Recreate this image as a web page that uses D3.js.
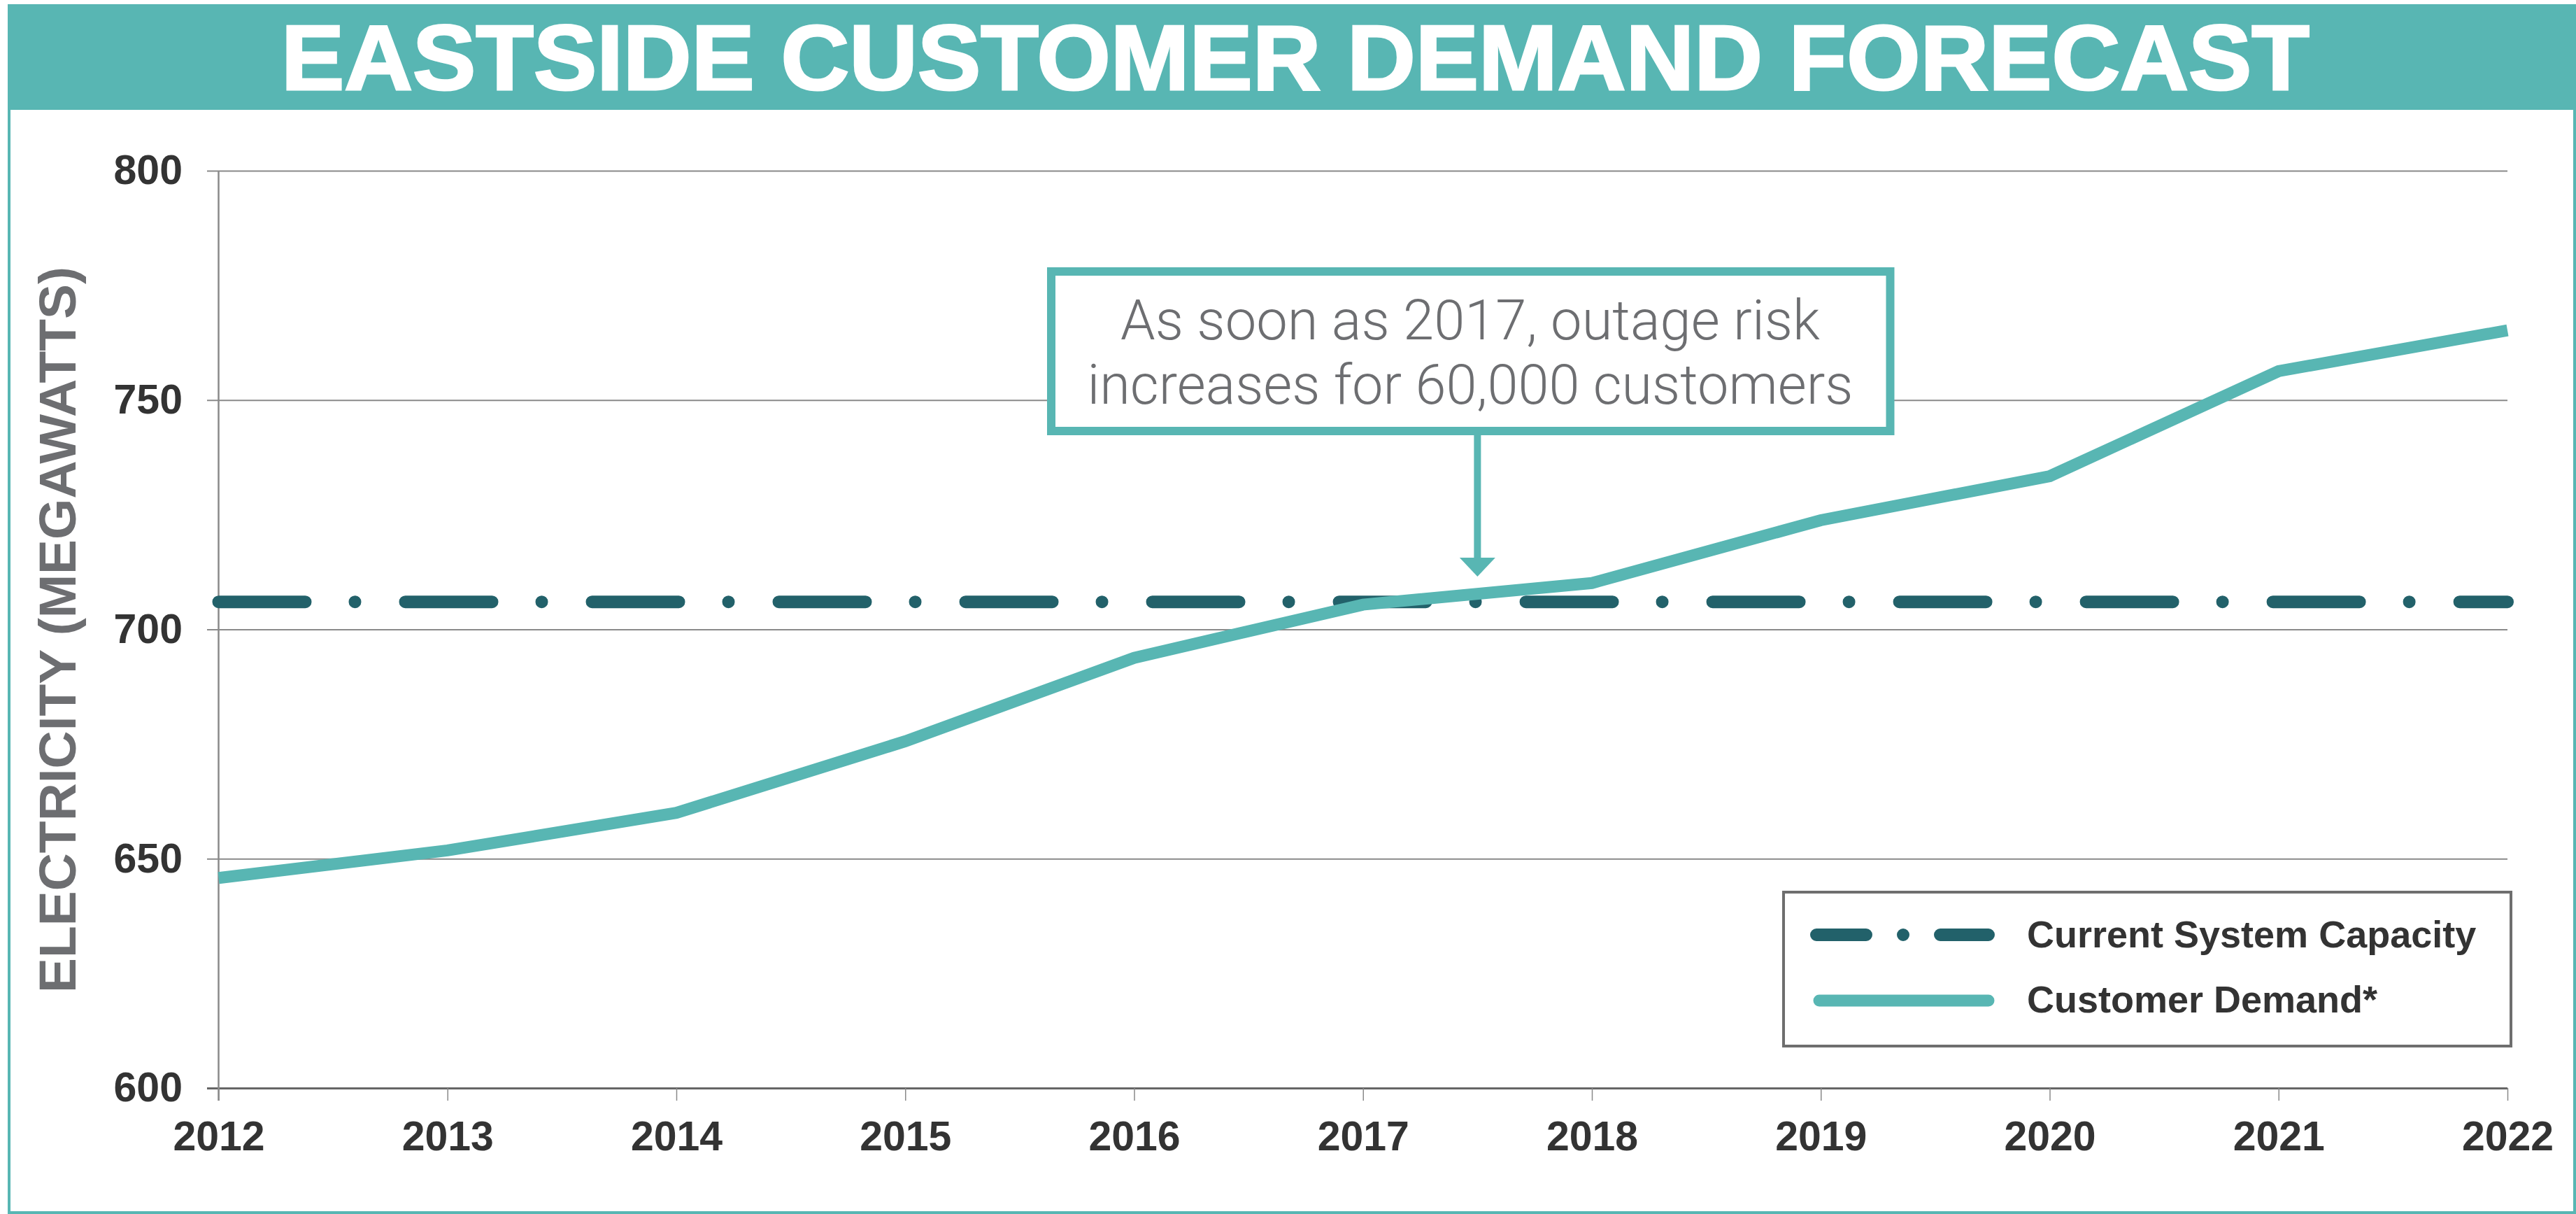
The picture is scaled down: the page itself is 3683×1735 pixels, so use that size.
<!DOCTYPE html>
<html>
<head>
<meta charset="utf-8">
<script src="https://cdn.jsdelivr.net/npm/d3@7"></script>
<style>
  html, body { margin: 0; padding: 0; background: #ffffff; }
  svg { display: block; }
</style>
</head>
<body>
<svg id="chart" width="3683" height="1735"></svg>
<script>
// ---- data ----
const years = [2012, 2013, 2014, 2015, 2016, 2017, 2018, 2019, 2020, 2021, 2022];
const demand = [645.8, 651.8, 660.0, 675.6, 693.8, 705.4, 710.1, 723.8, 733.4, 756.3, 765.2];
const capacityValue = 706;
const yTickValues = [600, 650, 700, 750, 800];
const xTickValues = years;
const titleText = "EASTSIDE CUSTOMER DEMAND FORECAST";
const yAxisTitle = "ELECTRICITY (MEGAWATTS)";
const annotationLines = ["As soon as 2017, outage risk", "increases for 60,000 customers"];
const annotationYear = 2017.5;
const legendLabels = ["Current System Capacity", "Customer Demand*"];

// ---- styles ----
const TEAL = "#58b6b3";
const DARK = "#22616a";
const TEXT = "#333333";
const GRAYTXT = "#6d6e71";

const svg = d3.select("#chart");
const W = 3683, H = 1735;

// frame
svg.append("rect").attr("x", 13).attr("y", 8).attr("width", W - 15).attr("height", H - 10)
  .attr("fill", "#fff").attr("stroke", TEAL).attr("stroke-width", 4);
svg.append("rect").attr("x", 11).attr("y", 6).attr("width", W - 11).attr("height", 151).attr("fill", TEAL);
svg.append("text").attr("x", 1852).attr("y", 128)
  .attr("text-anchor", "middle")
  .attr("font-family", "Liberation Sans, Arial, sans-serif")
  .attr("font-weight", 700).attr("font-size", 132)
  .attr("fill", "#fff").attr("stroke", "#fff").attr("stroke-width", 3)
  .attr("textLength", 2900).attr("lengthAdjust", "spacingAndGlyphs")
  .text(titleText);

// scales
const x = d3.scaleLinear().domain([2012, 2022]).range([312.5, 3585]);
const y = d3.scaleLinear().domain([600, 800]).range([1555, 244]);

// y grid + labels
const yAxis = d3.axisLeft(y).tickValues(yTickValues).tickSize(-(3585 - 296)).tickPadding(35)
  .tickFormat(d3.format("d"));
const gy = svg.append("g").attr("transform", "translate(296,0)").call(yAxis);
gy.select(".domain").remove();
gy.selectAll(".tick line").attr("stroke", "#8a8a8a").attr("stroke-width", 2);
gy.selectAll(".tick text").attr("fill", TEXT)
  .attr("font-family", "Liberation Sans, Arial, sans-serif")
  .attr("font-weight", 700).attr("font-size", 59);
gy.selectAll(".tick").filter(d => d === 600).select("line").attr("stroke", "#666").attr("stroke-width", 3);

// x axis
const xAxis = d3.axisBottom(x).tickValues(xTickValues).tickSize(18).tickFormat(d3.format("d"));
const gx = svg.append("g").attr("transform", "translate(0,1555)").call(xAxis);
gx.select(".domain").remove();
gx.selectAll(".tick line").attr("stroke", "#8a8a8a").attr("stroke-width", 1.5);
gx.selectAll(".tick text").attr("fill", TEXT).attr("y", 89).attr("dy", 0)
  .attr("font-family", "Liberation Sans, Arial, sans-serif")
  .attr("font-weight", 700).attr("font-size", 59);

// y axis line
svg.append("line").attr("x1", x(2012)).attr("x2", x(2012)).attr("y1", y(800)).attr("y2", 1573)
  .attr("stroke", "#8a8a8a").attr("stroke-width", 2.5);

// y axis title
svg.append("text")
  .attr("transform", `translate(108,${900}) rotate(-90)`)
  .attr("text-anchor", "middle")
  .attr("font-family", "Liberation Sans, Arial, sans-serif")
  .attr("font-weight", 700).attr("font-size", 74)
  .attr("fill", GRAYTXT)
  .attr("textLength", 1038).attr("lengthAdjust", "spacingAndGlyphs")
  .text(yAxisTitle);

// capacity line
const capData = [2012, 2022].map(yr => ({ year: yr, value: capacityValue }));
const line = d3.line().x(d => x(d.year)).y(d => y(d.value));
svg.append("path").datum(capData).attr("d", line)
  .attr("fill", "none").attr("stroke", DARK).attr("stroke-width", 18)
  .attr("stroke-linecap", "round").attr("stroke-dasharray", "124,71,0.01,72");

// demand line
const demData = years.map((yr, i) => ({ year: yr, value: demand[i] }));
svg.append("path").datum(demData).attr("d", line)
  .attr("fill", "none").attr("stroke", TEAL).attr("stroke-width", 17)
  .attr("stroke-linecap", "butt").attr("stroke-linejoin", "miter");

// annotation
const ax = x(annotationYear);
svg.append("line").attr("x1", ax).attr("x2", ax).attr("y1", 622).attr("y2", 798)
  .attr("stroke", TEAL).attr("stroke-width", 10);
svg.append("path").attr("d", `M${ax - 25.5},797 L${ax + 25.5},797 L${ax},824 Z`).attr("fill", TEAL);
svg.append("rect").attr("x", 1503).attr("y", 388).attr("width", 1199.5).attr("height", 228)
  .attr("fill", "#fff").attr("stroke", TEAL).attr("stroke-width", 12);
const annW = [1000, 1095];
annotationLines.forEach((t, i) => {
  svg.append("text").attr("x", 2102).attr("y", i === 0 ? 485 : 577)
    .attr("text-anchor", "middle")
    .attr("font-family", "Roboto, Liberation Sans, sans-serif")
    .attr("font-weight", 300).attr("font-size", 80)
    .attr("fill", GRAYTXT)
    .attr("textLength", annW[i]).attr("lengthAdjust", "spacingAndGlyphs")
    .text(t);
});

// legend
svg.append("rect").attr("x", 2550).attr("y", 1275).attr("width", 1040).attr("height", 220)
  .attr("fill", "#fff").attr("stroke", "#6e6e6e").attr("stroke-width", 4);
svg.append("line").attr("x1", 2597).attr("x2", 2843).attr("y1", 1336).attr("y2", 1336)
  .attr("stroke", DARK).attr("stroke-width", 18).attr("stroke-linecap", "round")
  .attr("stroke-dasharray", "71,53,0.01,53");
svg.append("line").attr("x1", 2601).attr("x2", 2843).attr("y1", 1430).attr("y2", 1430)
  .attr("stroke", TEAL).attr("stroke-width", 17).attr("stroke-linecap", "round");
legendLabels.forEach((t, i) => {
  svg.append("text").attr("x", 2898).attr("y", i === 0 ? 1354 : 1447)
    .attr("font-family", "Liberation Sans, Arial, sans-serif")
    .attr("font-weight", 700).attr("font-size", 54)
    .attr("fill", TEXT).text(t);
});
</script>
</body>
</html>
